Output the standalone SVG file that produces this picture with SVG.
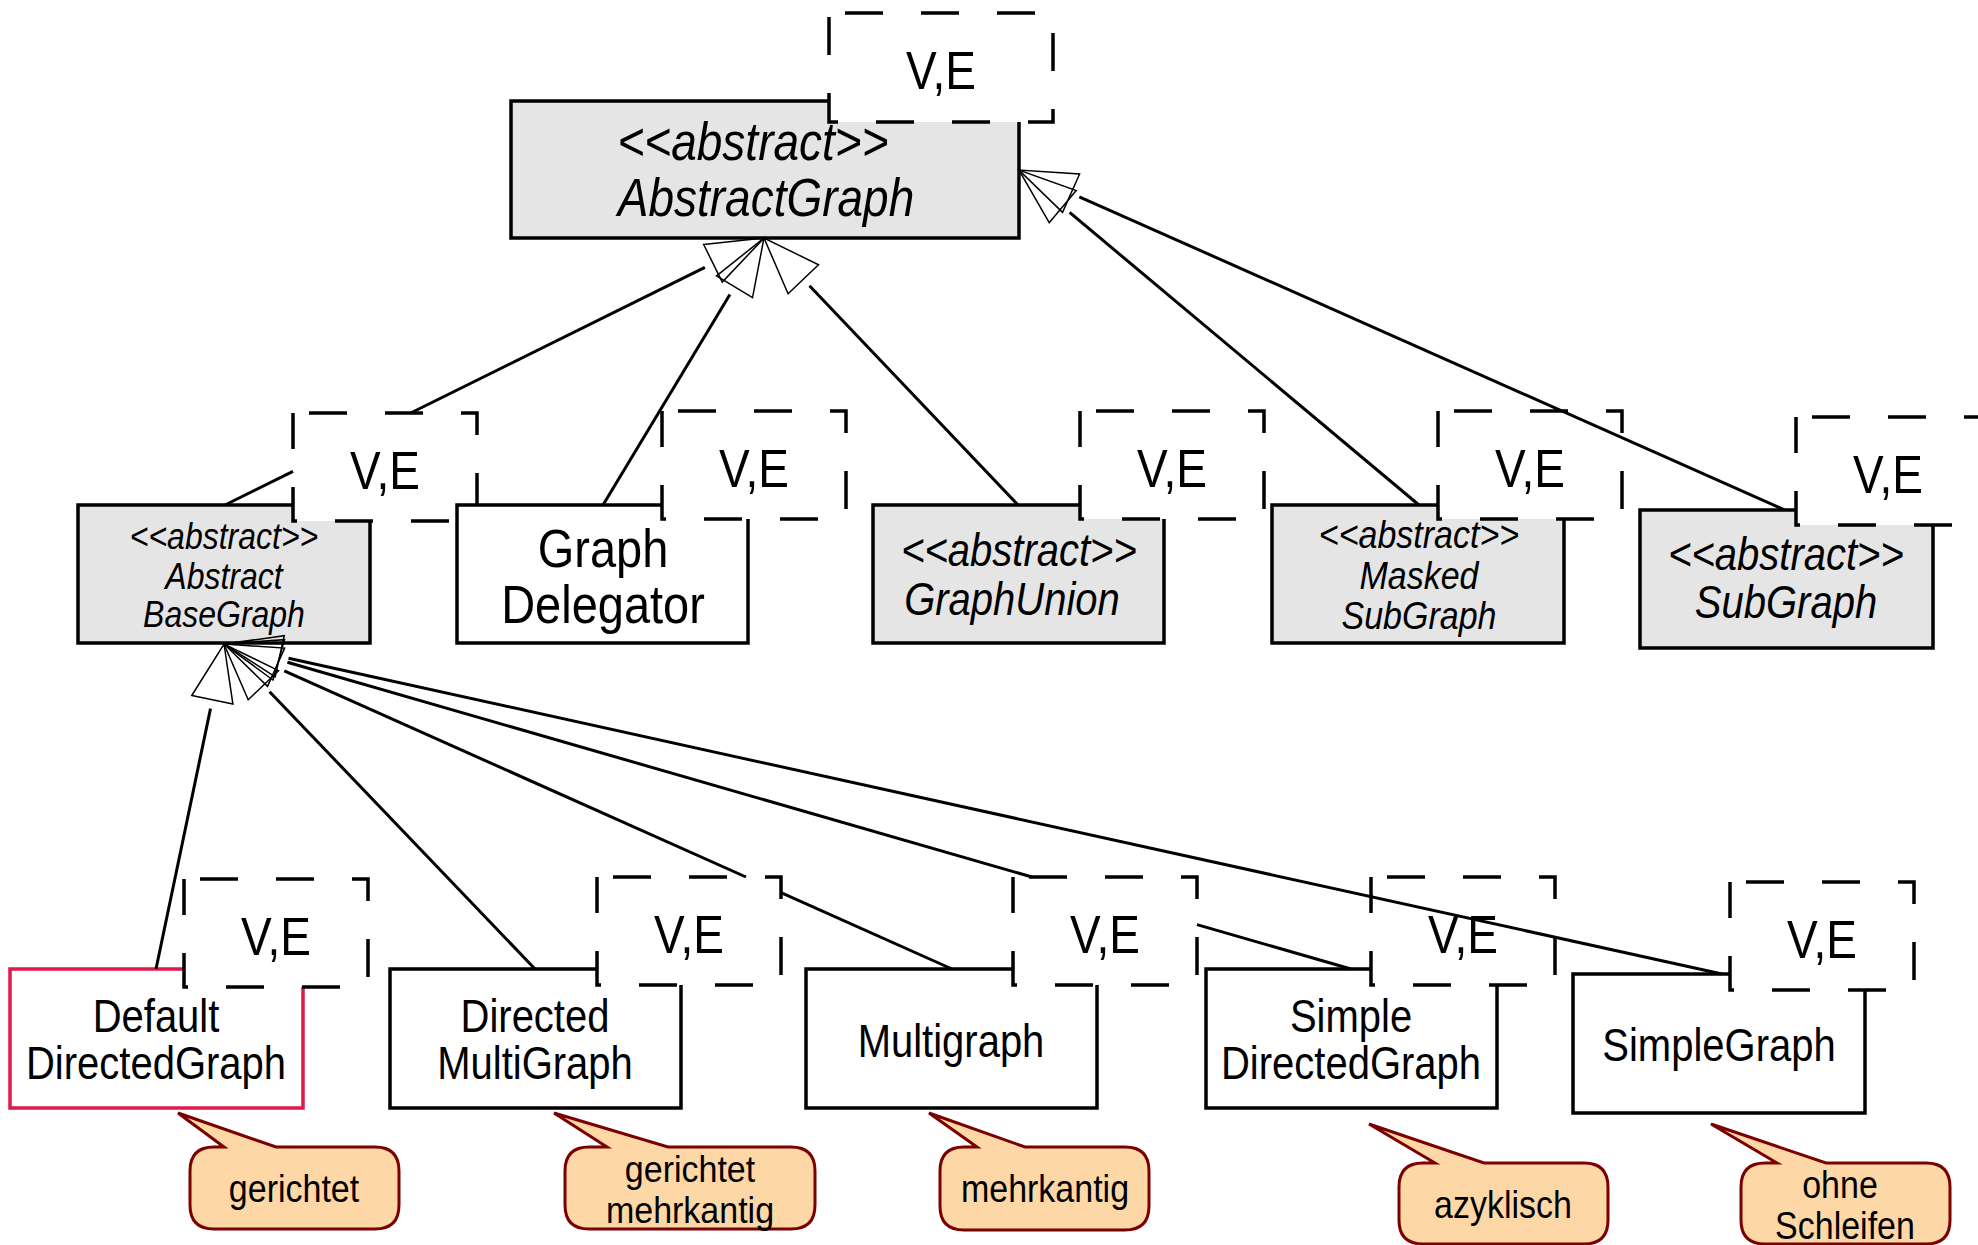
<svg xmlns="http://www.w3.org/2000/svg" width="1978" height="1245" viewBox="0 0 1978 1245">
<style>
text { font-family: "Liberation Sans", Arial, sans-serif; text-anchor: middle; fill: #000; }
.it { font-style: italic; }
.cls { fill: #fff; stroke: #000; stroke-width: 3.5; }
.abs { fill: #e5e5e5; stroke: #000; stroke-width: 3.5; }
.red { fill: #fff; stroke: #e0194b; stroke-width: 3.5; }
.ve { fill: #fff; stroke: #000; stroke-width: 3.5; stroke-dasharray: 38 38; stroke-dashoffset: 60; }
.vet { font-size: 46px; }
.note { fill: #fed7a6; stroke: #7b0000; stroke-width: 3; }
.nt { font-size: 34px; }
.f46 { font-size: 46px; }
.f47 { font-size: 47px; }
.f40 { font-size: 40px; }
.f34 { font-size: 34px; }
.f32 { font-size: 32px; }
#connectors line { stroke: #000; stroke-width: 3; fill: none; }
</style>
<defs>
<marker id="gen" markerUnits="userSpaceOnUse" orient="auto" refX="0" refY="0" markerWidth="80" markerHeight="60" overflow="visible">
<path d="M9,-21 L66,0 L9,21 Z" fill="none" stroke="#000" stroke-width="1.5"/>
</marker>
</defs>

<g id="AbstractGraph">
<rect class="abs" x="511" y="101" width="508" height="137"/>
<text class="it f46" transform="translate(753,160) scale(1,1.15)">&lt;&lt;abstract&gt;&gt;</text>
<text class="it f46" transform="translate(766,216) scale(1,1.15)">AbstractGraph</text>
<rect class="ve" x="829" y="13" width="224" height="109"/>
<text class="vet" transform="translate(941,89) scale(1,1.15)">V,E</text>
</g>

<g id="AbstractBaseGraph">
<rect class="abs" x="78" y="505" width="292" height="138"/>
<text class="it f32" transform="translate(224,549) scale(1,1.15)">&lt;&lt;abstract&gt;&gt;</text>
<text class="it f32" transform="translate(224,589) scale(1,1.15)">Abstract</text>
<text class="it f32" transform="translate(224,627) scale(1,1.15)">BaseGraph</text>
<rect class="ve" x="293" y="413" width="184" height="108"/>
<text class="vet" transform="translate(385,489) scale(1,1.15)">V,E</text>
</g>

<g id="GraphDelegator">
<rect class="cls" x="457" y="505" width="291" height="138"/>
<text class="f47" transform="translate(603,567) scale(1,1.15)">Graph</text>
<text class="f47" transform="translate(603,623) scale(1,1.15)">Delegator</text>
<rect class="ve" x="662" y="411" width="184" height="108"/>
<text class="vet" transform="translate(754,487) scale(1,1.15)">V,E</text>
</g>

<g id="GraphUnion">
<rect class="abs" x="873" y="505" width="291" height="138"/>
<text class="it f40" transform="translate(1019,566) scale(1,1.15)">&lt;&lt;abstract&gt;&gt;</text>
<text class="it f40" transform="translate(1012,615) scale(1,1.15)">GraphUnion</text>
<rect class="ve" x="1080" y="411" width="184" height="108"/>
<text class="vet" transform="translate(1172,487) scale(1,1.15)">V,E</text>
</g>

<g id="MaskedSubGraph">
<rect class="abs" x="1272" y="505" width="292" height="138"/>
<text class="it f34" transform="translate(1419,548) scale(1,1.15)">&lt;&lt;abstract&gt;&gt;</text>
<text class="it f34" transform="translate(1419,589) scale(1,1.15)">Masked</text>
<text class="it f34" transform="translate(1419,629) scale(1,1.15)">SubGraph</text>
<rect class="ve" x="1438" y="411" width="184" height="108"/>
<text class="vet" transform="translate(1530,487) scale(1,1.15)">V,E</text>
</g>

<g id="SubGraph">
<rect class="abs" x="1640" y="510" width="293" height="138"/>
<text class="it f40" transform="translate(1786,570) scale(1,1.15)">&lt;&lt;abstract&gt;&gt;</text>
<text class="it f40" transform="translate(1786,618) scale(1,1.15)">SubGraph</text>
<rect class="ve" x="1796" y="417" width="184" height="108"/>
<text class="vet" transform="translate(1888,493) scale(1,1.15)">V,E</text>
</g>

<g id="DefaultDirectedGraph">
<rect class="red" x="10" y="969" width="293" height="139"/>
<text class="f40" transform="translate(156,1032) scale(1,1.15)">Default</text>
<text class="f40" transform="translate(156,1079) scale(1,1.15)">DirectedGraph</text>
<rect class="ve" x="184" y="879" width="184" height="108"/>
<text class="vet" transform="translate(276,955) scale(1,1.15)">V,E</text>
</g>

<g id="DirectedMultiGraph">
<rect class="cls" x="390" y="969" width="291" height="139"/>
<text class="f40" transform="translate(535,1032) scale(1,1.15)">Directed</text>
<text class="f40" transform="translate(535,1079) scale(1,1.15)">MultiGraph</text>
<rect class="ve" x="597" y="877" width="184" height="108"/>
<text class="vet" transform="translate(689,953) scale(1,1.15)">V,E</text>
</g>

<g id="Multigraph">
<rect class="cls" x="806" y="969" width="291" height="139"/>
<text class="f40" transform="translate(951,1057) scale(1,1.15)">Multigraph</text>
<rect class="ve" x="1013" y="877" width="184" height="108"/>
<text class="vet" transform="translate(1105,953) scale(1,1.15)">V,E</text>
</g>

<g id="SimpleDirectedGraph">
<rect class="cls" x="1206" y="969" width="291" height="139"/>
<text class="f40" transform="translate(1351,1032) scale(1,1.15)">Simple</text>
<text class="f40" transform="translate(1351,1079) scale(1,1.15)">DirectedGraph</text>
<rect class="ve" x="1371" y="877" width="184" height="108"/>
<text class="vet" transform="translate(1463,953) scale(1,1.15)">V,E</text>
</g>

<g id="SimpleGraph">
<rect class="cls" x="1573" y="974" width="292" height="139"/>
<text class="f40" transform="translate(1719,1061) scale(1,1.15)">SimpleGraph</text>
<rect class="ve" x="1730" y="882" width="184" height="108"/>
<text class="vet" transform="translate(1822,958) scale(1,1.15)">V,E</text>
</g>

<g id="note-gerichtet">
<path class="note" d="M224,1147 L178,1113 L276,1147 L375,1147 Q399,1147 399,1171 L399,1205 Q399,1229 375,1229 L214,1229 Q190,1229 190,1205 L190,1171 Q190,1147 214,1147 Z"/>
<text class="nt" transform="translate(294,1202) scale(1,1.15)">gerichtet</text>
</g>

<g id="note-gerichtet-mehrkantig">
<path class="note" d="M607,1147 L554,1113 L668,1147 L791,1147 Q815,1147 815,1171 L815,1205 Q815,1229 791,1229 L589,1229 Q565,1229 565,1205 L565,1171 Q565,1147 589,1147 Z"/>
<text class="nt" transform="translate(690,1182) scale(1,1.06)">gerichtet</text>
<text class="nt" transform="translate(690,1223) scale(1,1.06)">mehrkantig</text>
</g>

<g id="note-mehrkantig">
<path class="note" d="M977,1147 L929,1113 L1025,1147 L1125,1147 Q1149,1147 1149,1171 L1149,1206 Q1149,1230 1125,1230 L964,1230 Q940,1230 940,1206 L940,1171 Q940,1147 964,1147 Z"/>
<text class="nt" transform="translate(1045,1202) scale(1,1.15)">mehrkantig</text>
</g>

<g id="note-azyklisch">
<path class="note" d="M1435,1163 L1369,1124 L1484,1163 L1584,1163 Q1608,1163 1608,1187 L1608,1220 Q1608,1244 1584,1244 L1423,1244 Q1399,1244 1399,1220 L1399,1187 Q1399,1163 1423,1163 Z"/>
<text class="nt" transform="translate(1503,1218) scale(1,1.15)">azyklisch</text>
</g>

<g id="note-ohne-schleifen">
<path class="note" d="M1777,1163 L1711,1124 L1826,1163 L1926,1163 Q1950,1163 1950,1187 L1950,1220 Q1950,1244 1926,1244 L1765,1244 Q1741,1244 1741,1220 L1741,1187 Q1741,1163 1765,1163 Z"/>
<text class="nt" transform="translate(1840,1198) scale(1,1.15)">ohne</text>
<text class="nt" transform="translate(1845,1239) scale(1,1.15)">Schleifen</text>
</g>

<g id="connectors">
<line x1="225" y1="505" x2="293" y2="471.3"/>
<line x1="410.7" y1="413" x2="704.9" y2="267.3" marker-end="url(#gen)"/>
<line x1="603" y1="505" x2="729.9" y2="294.5" marker-end="url(#gen)"/>
<line x1="1018" y1="505" x2="809.5" y2="285.8" marker-end="url(#gen)"/>
<line x1="1419" y1="505" x2="1069.6" y2="212.4" marker-end="url(#gen)"/>
<line x1="1785" y1="510" x2="1079.3" y2="196.8" marker-end="url(#gen)"/>
<line x1="156" y1="969" x2="210.5" y2="708.6" marker-end="url(#gen)"/>
<line x1="535" y1="969" x2="269.6" y2="691.7" marker-end="url(#gen)"/>
<line x1="952" y1="969" x2="781" y2="892.6"/>
<line x1="746" y1="877" x2="284.3" y2="670.9" marker-end="url(#gen)"/>
<line x1="1351" y1="969" x2="1197" y2="924.6"/>
<line x1="1032" y1="877" x2="287.4" y2="662.3" marker-end="url(#gen)"/>
<line x1="1722" y1="974" x2="288.5" y2="658.2" marker-end="url(#gen)"/>
</g>
</svg>
